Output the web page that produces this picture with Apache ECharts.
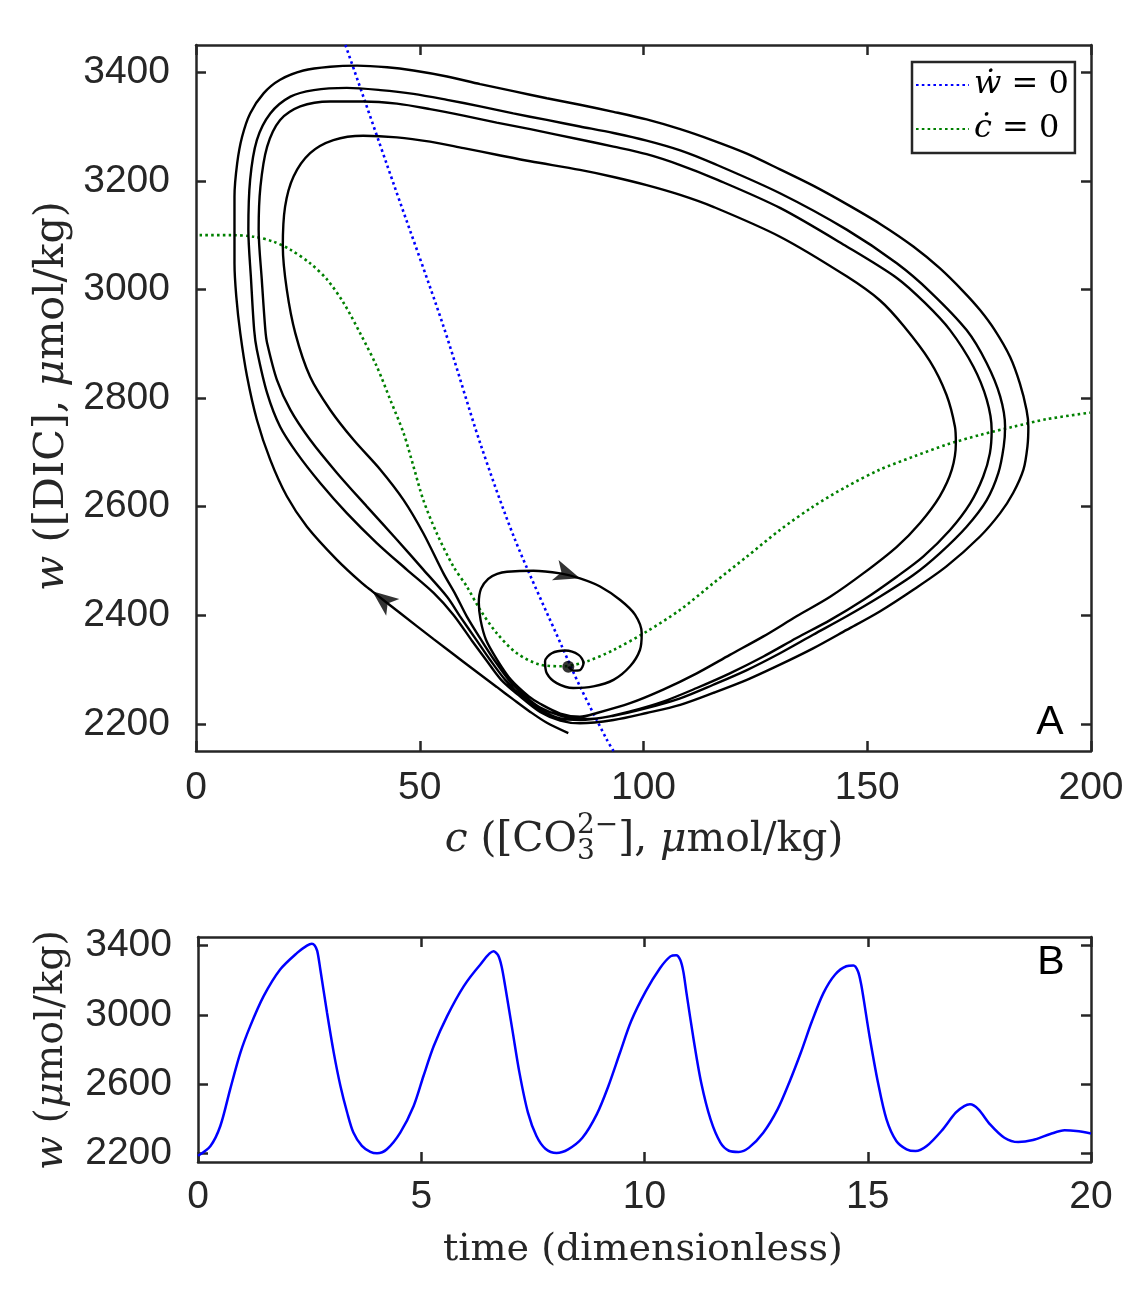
<!DOCTYPE html>
<html><head><meta charset="utf-8">
<script src="https://cdn.jsdelivr.net/npm/echarts@6/dist/echarts.min.js"></script>
<style>html,body{margin:0;padding:0;background:#fff}#c{width:1136px;height:1293px}</style>
</head><body><div id="c"></div>
<script>
// ---------- DATA ----------
// Phase-plane trajectory (c [CO3 2-], w [DIC]) in time order
const trajectory = [
[83.2,2183],[78.4,2202],[74.7,2222],[70.9,2245],[67.2,2268],[59.8,2314],[53.1,2356],[45.6,2404],[39.4,2444],[37.1,2459],[31.5,2502],[24.8,2563],[20.3,2619],[16.6,2686],[13.6,2760],[11.4,2840],[9.9,2919],[9.0,2987],[8.6,3048],[8.6,3097],[8.6,3171],[9.2,3232],[10.3,3281],[12.1,3324],[15.1,3361],[18.8,3386],[24.0,3403],[30.0,3410],[36.0,3412],[42.7,3409],[48.6,3403],[56.1,3392],[63.5,3378],[70.9,3365],[78.4,3352],[85.8,3340],
[93.3,3327],[100.7,3313],[108.2,3295],[115.6,3274],[123.1,3250],[130.5,3221],[137.9,3191],[145.4,3157],[152.8,3121],[160.3,3079],[166.2,3039],[171.5,2996],[175.2,2962],[178.5,2925],
[181.9,2876],[184.1,2827],[185.6,2778],[186.0,2747],[185.8,2711],[184.9,2668],[182.6,2625],[179.7,2588],[175.2,2545],[167.7,2490],[160.3,2447],[152.8,2407],[145.4,2373],[137.9,2339],[130.5,2309],[123.1,2281],[115.6,2257],[108.2,2235],[100.7,2220],[93.3,2207],[85.8,2201],
[81.4,2206],[76.9,2222],[72.2,2252],[68.2,2281],[64.8,2318],[61.5,2355],[57.5,2401],
[53.1,2441],[47.1,2484],[40.4,2533],[33.7,2588],[27.8,2643],[22.6,2698],[18.8,2747],[15.9,2809],[13.6,2889],[13.0,2925],[12.3,3018],[11.7,3110],[12.1,3202],[13.6,3275],[16.6,3324],[21.1,3355],[26.3,3367],[33.7,3371],[41.2,3367],[48.6,3360],[56.1,3349],[63.5,3337],[70.9,3324],[78.4,3312],[85.8,3300],
[93.3,3288],[100.7,3274],[108.2,3256],[115.6,3232],[130.5,3177],[145.4,3110],[156.6,3048],[164.0,2996],[172.2,2925],
[176.7,2864],[179.7,2803],[180.8,2747],[180.5,2711],[179.3,2662],[176.7,2612],[172.2,2563],[166.2,2514],[160.3,2474],[152.8,2434],[145.4,2398],[137.9,2364],[130.5,2330],[123.1,2299],[115.6,2272],[108.2,2247],[100.7,2229],[93.3,2215],[85.8,2207],
[81.4,2210],[76.9,2226],[73.1,2248],[69.1,2281],[65.7,2318],[62.6,2355],[59.0,2398],
[56.1,2434],[50.8,2484],[44.9,2539],[38.2,2600],[31.5,2662],[25.5,2723],[21.1,2778],[18.1,2833],[15.9,2901],[15.5,2925],[14.7,3018],[14.0,3110],[14.4,3189],[15.9,3263],[18.8,3312],[23.3,3337],[30.0,3346],[37.4,3346],[44.9,3342],[52.3,3332],[59.8,3320],[67.2,3307],[74.7,3295],[85.8,3276],
[93.3,3263],[100.7,3249],[108.2,3229],[115.6,3205],[130.5,3150],[145.4,3079],[156.6,3021],[162.9,2975],[168.5,2925],
[173.7,2858],[176.7,2797],[177.8,2741],[177.4,2698],[175.9,2655],[173.0,2606],[168.5,2557],[162.5,2508],[156.6,2471],[149.1,2428],[141.7,2391],[134.2,2358],[126.8,2324],[119.3,2293],[111.9,2266],[104.4,2241],[97.0,2223],[89.6,2210],[85.8,2209],
[81.4,2215],[76.9,2230],[73.8,2249],[69.9,2281],[66.6,2318],[63.7,2355],[60.5,2398],
[58.0,2438],[55.3,2477],[50.8,2551],[46.4,2612],[41.2,2668],[35.2,2723],[30.0,2778],[25.5,2839],[22.2,2919],[20.3,2999],[19.4,3079],[19.9,3152],[21.8,3208],[25.5,3251],[30.7,3275],[37.4,3283],[44.9,3280],[52.3,3272],[59.8,3260],[67.2,3248],[74.7,3236],[85.8,3220],
[93.3,3207],[100.7,3192],[108.2,3174],[115.6,3152],[130.5,3097],[145.4,3024],[152.8,2980],[158.1,2933],
[164.0,2868],[167.7,2806],[169.6,2747],[169.8,2717],[168.9,2668],[166.2,2619],[161.8,2570],[156.6,2526],[149.1,2477],[141.7,2434],[134.2,2398],[126.8,2361],[119.3,2327],[111.9,2293],[104.4,2263],[97.0,2238],[89.6,2220],[85.8,2213],
[81.4,2219],[76.9,2237],[74.3,2251],[70.4,2281],[67.3,2318],[64.8,2355],[63.6,2391],[63.2,2423],[63.7,2449],[65.3,2467],[67.3,2476],[69.5,2480],[75.4,2482],[81.4,2477],[85.8,2468],[90.3,2453],[94.8,2428],[98.1,2401],[99.6,2367],[99.2,2336],[97.0,2306],[93.3,2281],[88.8,2269],[84.3,2266],[80.6,2275],[78.4,2293],[78.0,2315],[79.5,2330],[82.5,2335],[85.5,2327],[86.6,2312],[85.8,2299],[84.3,2298],[83.2,2305]
];
// w-dot = 0 nullcline
const wNullcline = [[33.4,3450],[44.3,3191],[55.3,2932],[63.5,2717],[71.3,2539],[81.8,2342],[85.8,2269],[91.8,2171],[93.3,2150]];
// c-dot = 0 nullcline
const cNullcline = [[0.8,3100],[7.7,3100],[12.9,3097],[17.3,3088],[21.1,3073],[25.5,3048],[29.3,3018],[33.0,2975],[36.7,2919],[40.4,2858],[43.4,2797],[46.4,2735],[48.6,2674],[50.8,2612],[53.8,2551],[57.5,2490],[60.5,2453],[63.5,2410],[67.2,2367],[71.7,2330],[76.9,2309],[82.1,2306],[87.3,2315],[93.3,2336],[100.7,2370],[108.2,2410],[115.6,2459],[123.1,2508],[130.5,2557],[137.9,2600],[145.4,2637],[152.8,2668],[160.3,2692],[167.7,2714],[175.2,2732],[182.6,2747],[190.1,2761],[199.8,2773]];
const fixedPoint = [[83.2,2305]];
const arrowPoints = [[39.4,2444],[85.8,2468]];
// Time series (panel B)
const timeValues = [0,0.28,0.5,0.72,0.95,1.17,1.47,1.84,2.22,2.44,2.55,2.61,2.67,2.74,2.89,3.04,3.19,3.34,3.48,3.67,3.86,4.01,4.23,4.53,4.83,5.05,5.28,5.58,5.95,6.32,6.62,6.72,6.8,6.88,7.04,7.2,7.39,7.58,7.78,8.03,8.29,8.61,8.93,9.19,9.45,9.7,10.03,10.35,10.58,10.71,10.8,10.87,10.94,11.1,11.27,11.48,11.7,11.89,12.11,12.34,12.66,12.98,13.24,13.5,13.75,14.01,14.27,14.52,14.68,14.78,14.85,14.91,15.04,15.23,15.42,15.64,15.87,16.07,16.32,16.65,16.97,17.16,17.29,17.48,17.74,18.06,18.37,18.7,19.09,19.41,19.67,20];
const wValues = [2186,2243,2358,2570,2782,2935,3108,3262,3358,3400,3411,3402,3370,3262,3012,2782,2589,2436,2320,2243,2209,2201,2224,2320,2474,2647,2820,2993,3165,3290,3367,3345,3280,3165,2915,2665,2435,2300,2227,2202,2223,2290,2425,2588,2781,2963,3137,3271,3338,3345,3318,3250,3127,2858,2608,2396,2262,2215,2208,2233,2319,2454,2608,2781,2963,3127,3233,3281,3285,3252,3180,3088,2877,2608,2396,2271,2223,2213,2242,2329,2435,2473,2483,2454,2367,2290,2265,2277,2312,2333,2329,2315];
// Axis ticks
const xTicksA = [0,50,100,150,200];
const yTicksA = [2200,2400,2600,2800,3000,3200,3400];
const xTicksB = [0,5,10,15,20];
const yTicksB = [2200,2600,3000,3400];
const legendNames = ['ẇ = 0','ċ = 0'];

// ---------- CHART ----------
const AXIS = '#262626';
const SERIF = '"DejaVu Serif"';
const chart = echarts.init(document.getElementById('c'), null, {renderer:'canvas', width:1136, height:1293});

function axis(gridIndex, dim, pos, min, max, ticks, labels, margin) {
  return {
    gridIndex, type:'value', position: pos, min, max,
    axisLine: {show:true, onZero:false, lineStyle:{color:AXIS, width:2.5}},
    axisTick: {show:true, inside:true, length:10, customValues: ticks, lineStyle:{color:AXIS, width:2.5}},
    axisLabel: labels ? {show:true, customValues: ticks, formatter: v => String(v), color: AXIS,
      fontFamily:'Liberation Sans', fontSize:39, margin: margin, showMinLabel:true, showMaxLabel:true, hideOverlap:false} : {show:false},
    splitLine:{show:false}, splitArea:{show:false}, axisPointer:{show:false}
  };
}

const mctx = document.createElement('canvas').getContext('2d');
function mathLabel(parts, cx, cy, rot, targetWidth) {
  const base = 40;
  function build(size) {
    const sSize = Math.round(size * 0.68);
    const items = []; let x = 0; let lastW = 0;
    parts.forEach(([t, k]) => {
      const fs = (k === 'sub' || k === 'sup') ? sSize : size;
      const font = (k === 'i' ? 'italic ' : '') + fs + 'px ' + SERIF;
      mctx.font = font;
      const w = mctx.measureText(t).width;
      let xx = x, dy = 0;
      if (k === 'sub') dy = size * 0.28;
      if (k === 'sup') { dy = -size * 0.36; xx = x - lastW; }
      items.push({t, font, x: xx, dy});
      if (k === 'sup') x = xx + Math.max(w, lastW); else x += w;
      lastW = w;
    });
    return {items, total: x};
  }
  let r = build(base);
  const size = base * targetWidth / r.total;
  r = build(size);
  return {type:'group', x:cx, y:cy, rotation:rot, silent:true,
    children: r.items.map(it => ({type:'text', x: it.x - r.total/2, y: it.dy,
      style:{text: it.t, font: it.font, fill: AXIS, align:'left', verticalAlign:'middle'}}))};
}

const dotted = [2.6, 3.2];
const option = {
  animation: false,
  backgroundColor: '#fff',
  grid: [
    {left:196, top:45, width:895, height:706, outerBoundsMode:'none', containLabel:false},
    {left:198, top:937, width:893, height:225, outerBoundsMode:'none', containLabel:false}
  ],
  xAxis: [
    axis(0,'x','bottom',0,200,xTicksA,true,18),
    axis(0,'x','top',0,200,xTicksA,false),
    axis(1,'x','bottom',0,20,xTicksB,true,16),
    axis(1,'x','top',0,20,xTicksB,false)
  ],
  yAxis: [
    axis(0,'y','left',2150,3450,yTicksA,true,26),
    axis(0,'y','right',2150,3450,yTicksA,false),
    axis(1,'y','left',2150,3450,yTicksB,true,26),
    axis(1,'y','right',2150,3450,yTicksB,false)
  ],
  legend: {
    data: legendNames, orient:'vertical', left:912, top:62,
    padding:[7,6,8,3], itemGap:12, itemWidth:53, itemHeight:14,
    borderColor: AXIS, borderWidth:2.5, backgroundColor:'#fff', selectedMode:false,
    itemStyle: {opacity: 0},
    formatter: n => { const p = n.split(' = '); return '{i|' + p[0] + '} {n|= ' + p[1] + '}'; },
    textStyle: {fontFamily:'DejaVu Serif', fontSize:32, color:'#000',
      rich: {i:{fontStyle:'italic', fontFamily:'DejaVu Serif', fontSize:32, color:'#000'},
             n:{fontFamily:'DejaVu Serif', fontSize:32, color:'#000'}}}
  },
  series: [
    {name: legendNames[0], type:'line', xAxisIndex:0, yAxisIndex:0, data:wNullcline, showSymbol:false, symbol:'none', smooth:0.3,
      lineStyle:{color:'#0000ff', width:2.6, type:dotted}, itemStyle:{color:'#0000ff'}, z:2, silent:true},
    {name: legendNames[1], type:'line', xAxisIndex:0, yAxisIndex:0, data:cNullcline, showSymbol:false, symbol:'none', smooth:0.3,
      lineStyle:{color:'#008000', width:2.6, type:dotted}, itemStyle:{color:'#008000'}, z:2, silent:true},
    {name:'trajectory', type:'line', xAxisIndex:0, yAxisIndex:0, data:trajectory, showSymbol:false, symbol:'none', smooth:0.3,
      lineStyle:{color:'#000', width:2.4}, z:3, silent:true},
    {name:'fixed', type:'scatter', xAxisIndex:0, yAxisIndex:0, data:fixedPoint, symbol:'circle', symbolSize:12,
      itemStyle:{color:'#000'}, z:4, silent:true},
    {id:'arrows', name:'arrows', type:'scatter', xAxisIndex:0, yAxisIndex:0, data:[], symbol:'arrow', symbolSize:[16,26],
      itemStyle:{color:'#000'}, z:5, silent:true},
    {name:'w(t)', type:'line', xAxisIndex:2, yAxisIndex:2, data: timeValues.map((t,i)=>[t, wValues[i]]), showSymbol:false, symbol:'none', smooth:0.3,
      lineStyle:{color:'#0000ff', width:2.5}, z:3, silent:true}
  ],
  graphic: [
    mathLabel([['c','i'],[' ([CO','r'],['3','sub'],['2−','sup'],['], ','r'],['μ','i'],['mol/kg)','r']], 644, 840, 0, 398),
    mathLabel([['w','i'],[' ([DIC], ','r'],['μ','i'],['mol/kg)','r']], 52, 396, Math.PI/2, 390),
    mathLabel([['w','i'],[' (','r'],['μ','i'],['mol/kg)','r']], 52, 1050, Math.PI/2, 240),
    mathLabel([['time (dimensionless)','r']], 643, 1250, 0, 400),
    {type:'text', x:1050, y:723, silent:true, style:{text:'A', font:'41px "Liberation Sans"', fill:'#000', align:'center', verticalAlign:'middle'}},
    {type:'text', x:1051, y:963, silent:true, style:{text:'B', font:'41px "Liberation Sans"', fill:'#000', align:'center', verticalAlign:'middle'}}
  ]
};
chart.setOption(option);

// arrows: orientation follows the trajectory direction at the marked points
const arrowData = arrowPoints.map(p => {
  const i = trajectory.findIndex(q => q[0] === p[0] && q[1] === p[1]);
  const a = chart.convertToPixel({xAxisIndex:0, yAxisIndex:0}, trajectory[i-1]);
  const b = chart.convertToPixel({xAxisIndex:0, yAxisIndex:0}, trajectory[i+1]);
  const ang = Math.atan2(-(b[1]-a[1]), b[0]-a[0]) * 180 / Math.PI - 90;
  return {value: p, symbolRotate: ang};
});
chart.setOption({series:[{id:'arrows', data: arrowData}]});
</script>
</body></html>
